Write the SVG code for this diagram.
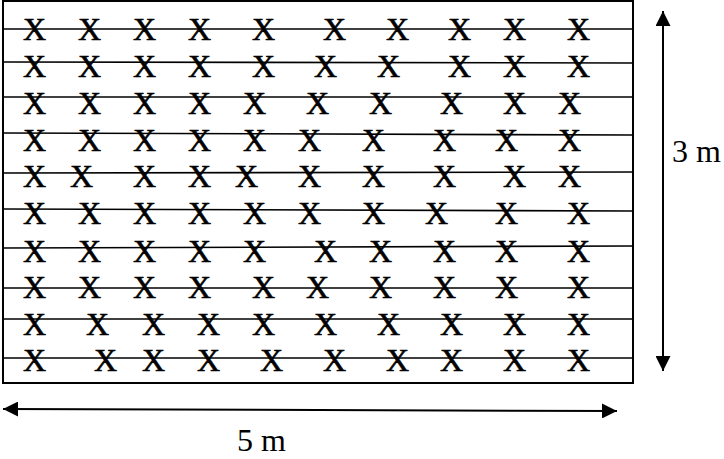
<svg xmlns="http://www.w3.org/2000/svg" width="724" height="459" viewBox="0 0 724 459">
<style>
.x{font-family:"Liberation Serif","Times New Roman",serif;font-size:32px;fill:#000;stroke:#000;stroke-width:0.6}
.lbl{font-family:"Liberation Serif","Times New Roman",serif;font-size:32px;fill:#000}
.row{stroke:#000;stroke-width:1.6;fill:none}
.dim{stroke:#000;stroke-width:2;fill:none}
</style>
<defs>
<marker id="ah" viewBox="0 0 15 15" refX="15" refY="7.5" markerWidth="15" markerHeight="15" markerUnits="userSpaceOnUse" orient="auto-start-reverse">
<path d="M0,0 L15,7.5 L0,15 Z" fill="#000"/>
</marker>
</defs>
<rect x="0" y="0" width="724" height="459" fill="#fff"/>
<g id="field">
<rect x="3" y="1" width="630" height="382" fill="none" stroke="#000" stroke-width="2"/>
</g>
<g id="connectors">
<line class="row" x1="3" y1="29" x2="633" y2="29"/>
<line class="row" x1="3" y1="62" x2="633" y2="63"/>
<line class="row" x1="3" y1="97" x2="633" y2="97"/>
<line class="row" x1="3" y1="133" x2="633" y2="135"/>
<line class="row" x1="3" y1="173" x2="633" y2="172"/>
<line class="row" x1="3" y1="209" x2="633" y2="211"/>
<line class="row" x1="3" y1="248" x2="633" y2="246"/>
<line class="row" x1="3" y1="288" x2="633" y2="288"/>
<line class="row" x1="3" y1="319" x2="633" y2="319"/>
<line class="row" x1="3" y1="358" x2="633" y2="358"/>
<line class="dim" x1="663" y1="11" x2="663" y2="371" marker-start="url(#ah)" marker-end="url(#ah)"/>
<line class="dim" x1="3" y1="409" x2="617" y2="411" marker-start="url(#ah)" marker-end="url(#ah)"/>
</g>
<g id="plants">
<text class="x" y="40"><tspan x="23">X</tspan><tspan x="78">X</tspan><tspan x="133">X</tspan><tspan x="188">X</tspan><tspan x="252">X</tspan><tspan x="323">X</tspan><tspan x="386">X</tspan><tspan x="448">X</tspan><tspan x="503">X</tspan><tspan x="567">X</tspan></text>
<text class="x" y="77"><tspan x="23">X</tspan><tspan x="78">X</tspan><tspan x="133">X</tspan><tspan x="188">X</tspan><tspan x="252">X</tspan><tspan x="314">X</tspan><tspan x="377">X</tspan><tspan x="448">X</tspan><tspan x="503">X</tspan><tspan x="567">X</tspan></text>
<text class="x" y="114"><tspan x="23">X</tspan><tspan x="78">X</tspan><tspan x="133">X</tspan><tspan x="188">X</tspan><tspan x="243">X</tspan><tspan x="306">X</tspan><tspan x="369">X</tspan><tspan x="440">X</tspan><tspan x="503">X</tspan><tspan x="558">X</tspan></text>
<text class="x" y="151"><tspan x="23">X</tspan><tspan x="78">X</tspan><tspan x="133">X</tspan><tspan x="188">X</tspan><tspan x="243">X</tspan><tspan x="298">X</tspan><tspan x="362">X</tspan><tspan x="433">X</tspan><tspan x="495">X</tspan><tspan x="558">X</tspan></text>
<text class="x" y="187"><tspan x="23">X</tspan><tspan x="70">X</tspan><tspan x="133">X</tspan><tspan x="188">X</tspan><tspan x="235">X</tspan><tspan x="298">X</tspan><tspan x="362">X</tspan><tspan x="433">X</tspan><tspan x="503">X</tspan><tspan x="558">X</tspan></text>
<text class="x" y="224"><tspan x="23">X</tspan><tspan x="78">X</tspan><tspan x="133">X</tspan><tspan x="188">X</tspan><tspan x="243">X</tspan><tspan x="298">X</tspan><tspan x="362">X</tspan><tspan x="425">X</tspan><tspan x="495">X</tspan><tspan x="567">X</tspan></text>
<text class="x" y="262"><tspan x="23">X</tspan><tspan x="78">X</tspan><tspan x="133">X</tspan><tspan x="188">X</tspan><tspan x="243">X</tspan><tspan x="314">X</tspan><tspan x="369">X</tspan><tspan x="433">X</tspan><tspan x="495">X</tspan><tspan x="567">X</tspan></text>
<text class="x" y="298"><tspan x="23">X</tspan><tspan x="78">X</tspan><tspan x="133">X</tspan><tspan x="188">X</tspan><tspan x="252">X</tspan><tspan x="306">X</tspan><tspan x="369">X</tspan><tspan x="433">X</tspan><tspan x="495">X</tspan><tspan x="567">X</tspan></text>
<text class="x" y="335"><tspan x="23">X</tspan><tspan x="86">X</tspan><tspan x="142">X</tspan><tspan x="197">X</tspan><tspan x="252">X</tspan><tspan x="314">X</tspan><tspan x="377">X</tspan><tspan x="440">X</tspan><tspan x="503">X</tspan><tspan x="567">X</tspan></text>
<text class="x" y="371"><tspan x="23">X</tspan><tspan x="94">X</tspan><tspan x="142">X</tspan><tspan x="197">X</tspan><tspan x="260">X</tspan><tspan x="323">X</tspan><tspan x="386">X</tspan><tspan x="440">X</tspan><tspan x="503">X</tspan><tspan x="567">X</tspan></text>
</g>
<g id="label-height"><text class="lbl" x="672" y="162">3 m</text></g>
<g id="label-width"><text class="lbl" x="237" y="451">5 m</text></g>
</svg>
